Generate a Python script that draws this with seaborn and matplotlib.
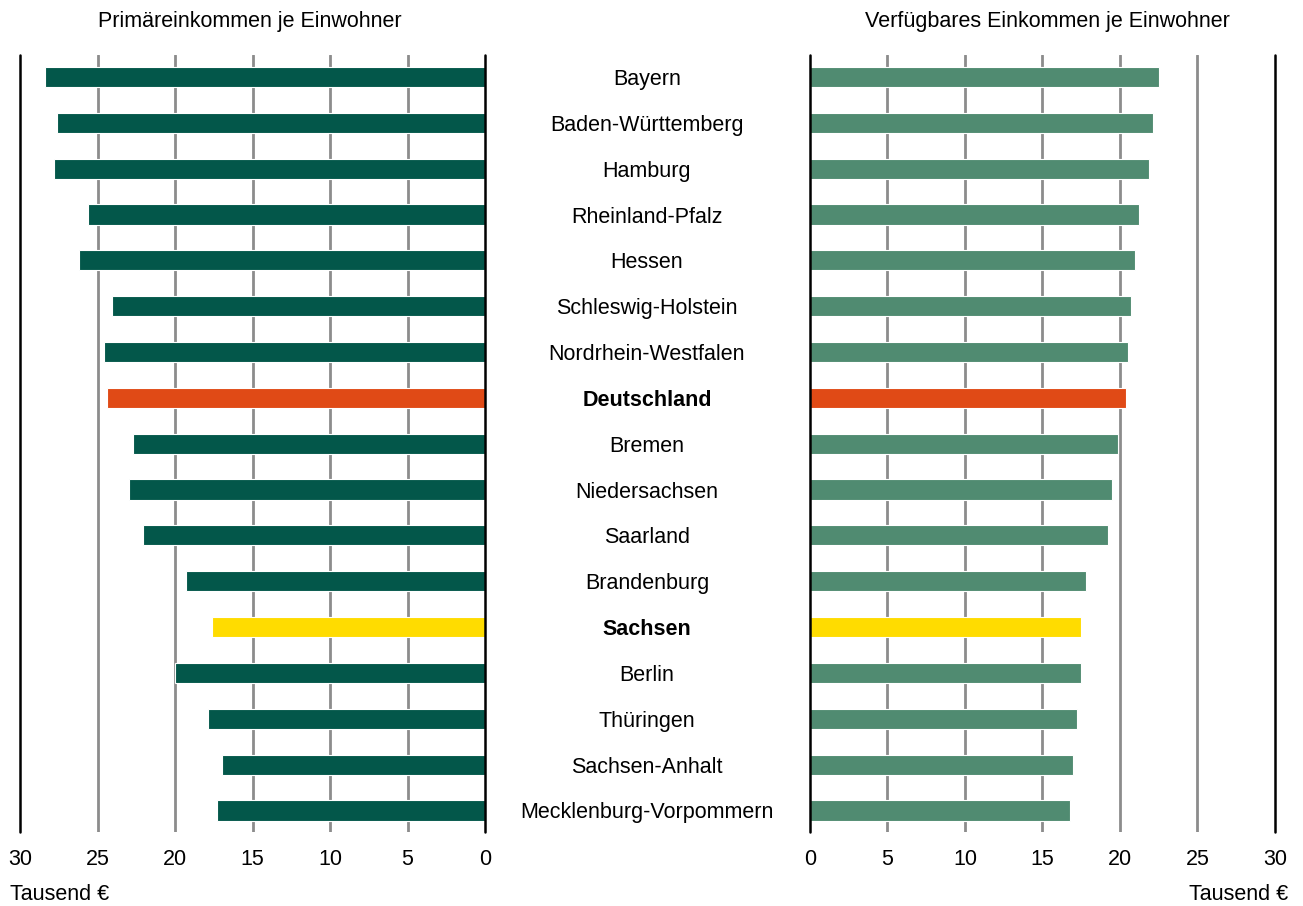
import matplotlib
matplotlib.use("Agg")
import matplotlib.pyplot as plt
import matplotlib.transforms as mtransforms
import seaborn as sns
import pandas as pd

# Data (Tausend Euro je Einwohner)
laender = [
    "Bayern", "Baden-Württemberg", "Hamburg", "Rheinland-Pfalz", "Hessen",
    "Schleswig-Holstein", "Nordrhein-Westfalen", "Deutschland", "Bremen",
    "Niedersachsen", "Saarland", "Brandenburg", "Sachsen", "Berlin",
    "Thüringen", "Sachsen-Anhalt", "Mecklenburg-Vorpommern",
]
primaer = [28.4, 27.6, 27.8, 25.6, 26.2, 24.1, 24.6, 24.4, 22.7,
           23.0, 22.1, 19.3, 17.6, 20.0, 17.9, 17.0, 17.3]
verfuegbar = [22.5, 22.1, 21.9, 21.2, 21.0, 20.7, 20.5, 20.4, 19.9,
              19.5, 19.2, 17.8, 17.5, 17.5, 17.2, 17.0, 16.8]
ticks = [0, 5, 10, 15, 20, 25, 30]
bold_labels = ["Deutschland", "Sachsen"]

DARK = "#03574a"
LIGHT = "#508b71"
ORANGE = "#e04a16"
YELLOW = "#ffdc00"
FS = 15.5

def colors_for(base):
    out = {}
    for l in laender:
        if l == "Deutschland":
            out[l] = ORANGE
        elif l == "Sachsen":
            out[l] = YELLOW
        else:
            out[l] = base
    return out

df = pd.DataFrame({"land": laender, "primaer": primaer, "verfuegbar": verfuegbar})

sns.set_style("white")
plt.rcParams["font.family"] = ["Liberation Sans", "DejaVu Sans"]
plt.rcParams["text.color"] = "black"
plt.rcParams["xtick.color"] = "black"
plt.rcParams["xtick.labelcolor"] = "black"

fig = plt.figure(figsize=(13.03, 9.06), dpi=100)
ax_l = fig.add_axes([0.0154, 0.0817, 0.3569, 0.8576])
ax_r = fig.add_axes([0.6216, 0.0817, 0.3569, 0.8576])

for ax, col, base in [(ax_l, "primaer", DARK), (ax_r, "verfuegbar", LIGHT)]:
    for t in ticks[1:-1]:
        ax.axvline(t, color="#8c8c8c", lw=2, zorder=0)
    sns.barplot(data=df, x=col, y="land", hue="land", palette=colors_for(base),
                legend=False, ax=ax, width=0.44, edgecolor="white",
                linewidth=0.8, saturation=1, zorder=2)
    ax.axvline(0, color="black", lw=1.8, zorder=3, clip_on=False)
    ax.axvline(30, color="black", lw=1.8, zorder=3, clip_on=False)
    ax.set_ylim(16.47, -0.48)
    ax.set_xticks(ticks)
    ax.set_xticklabels([str(t) for t in ticks], fontsize=FS)
    ax.tick_params(axis="x", length=0, pad=12)
    ax.set_yticks([])
    ax.set_xlabel("")
    ax.set_ylabel("")
    for s in ax.spines.values():
        s.set_visible(False)

ax_l.set_xlim(30, 0)
ax_r.set_xlim(0, 30)

# state names in the middle
trans = mtransforms.blended_transform_factory(fig.transFigure, ax_l.transData)
for i, l in enumerate(laender):
    fig.text(647 / 1303, i, l, transform=trans, ha="center", va="center_baseline",
             fontsize=FS, fontweight="bold" if l in bold_labels else "normal")

fig.text(250 / 1303, 1 - 22 / 906,
         "Primäreinkommen je Einwohner", ha="center", va="center", fontsize=FS)
fig.text(1047 / 1303, 1 - 22 / 906,
         "Verfügbares Einkommen je Einwohner", ha="center", va="center", fontsize=FS)
fig.text(10 / 1303, 1 - 895 / 906, "Tausend €", ha="left", va="center", fontsize=FS)
fig.text(1288 / 1303, 1 - 895 / 906, "Tausend €", ha="right", va="center", fontsize=FS)

fig.savefig("out.png", dpi=100)
